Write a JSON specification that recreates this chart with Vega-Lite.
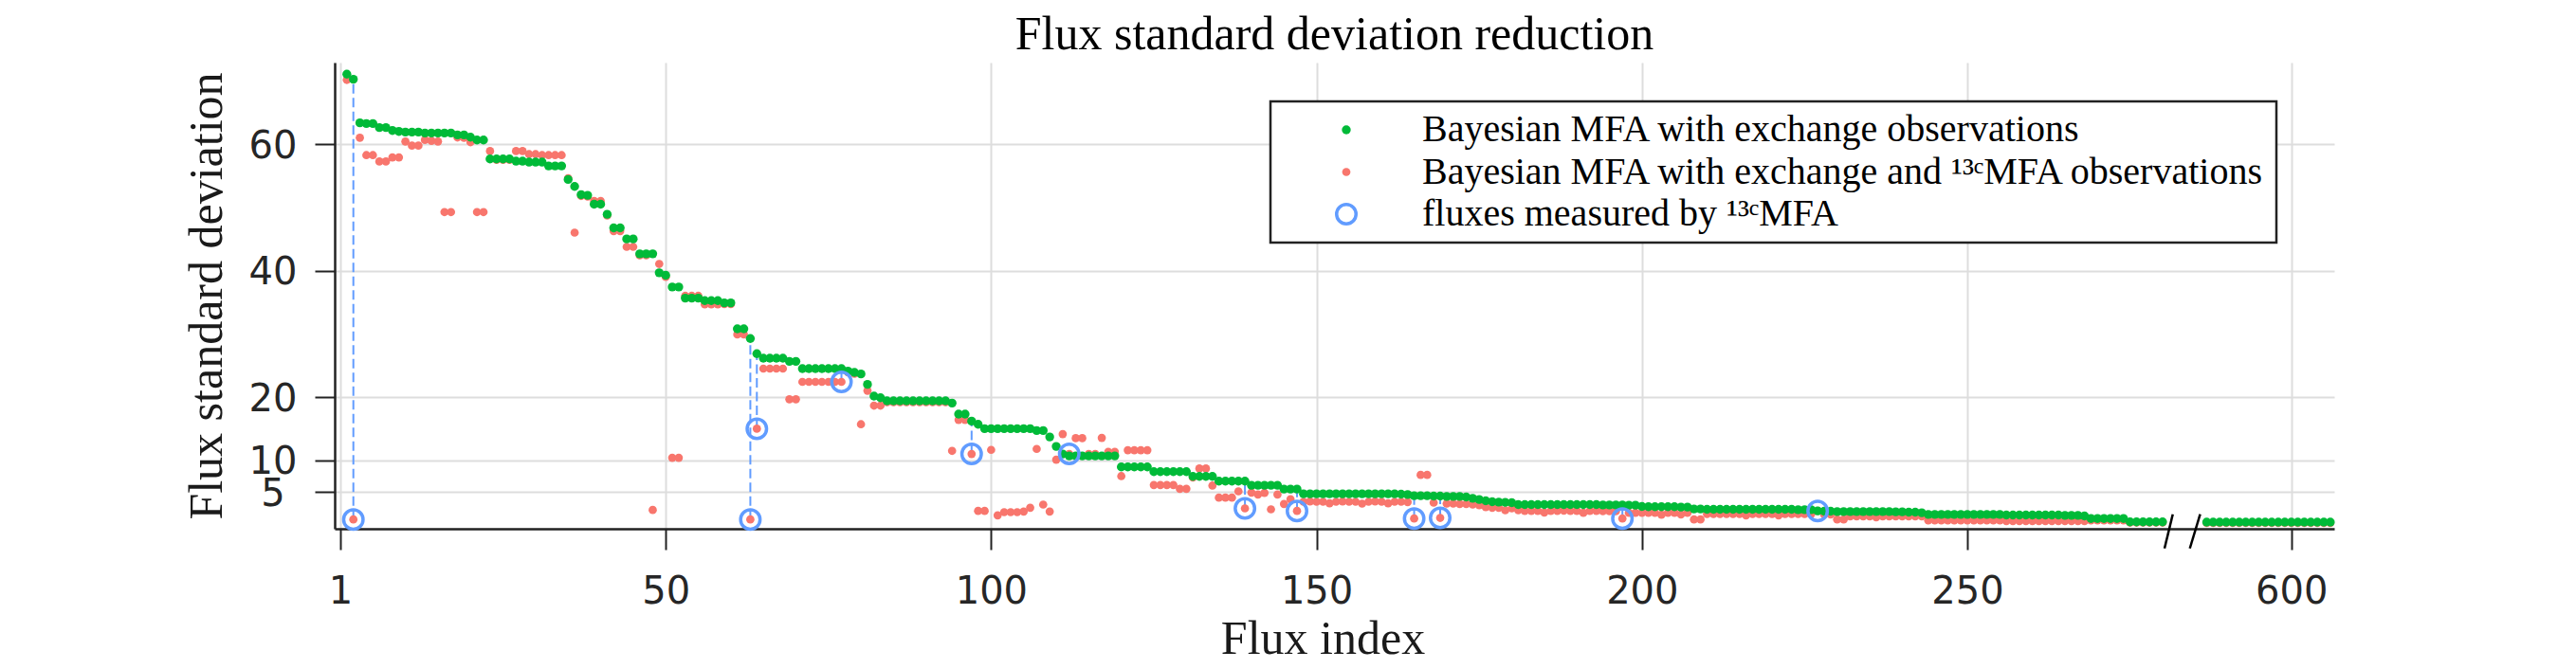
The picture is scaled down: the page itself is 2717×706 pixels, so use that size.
{
  "$schema": "https://vega.github.io/schema/vega-lite/v6.json",
  "width": 2109,
  "height": 492,
  "autosize": {"type": "none"},
  "padding": {"left": 353, "top": 66, "right": 255, "bottom": 148},
  "background": "white",
  "title": {
    "text": "Flux standard deviation reduction",
    "font": "Liberation Serif",
    "fontSize": 50,
    "fontWeight": "normal",
    "color": "black",
    "anchor": "middle"
  },
  "config": {
    "view": {"stroke": null},
    "axis": {
      "domainColor": "#222222",
      "domainWidth": 2.5,
      "tickColor": "#222222",
      "tickWidth": 2,
      "gridColor": "#dddddd",
      "gridWidth": 2,
      "labelFont": "DejaVu Sans",
      "labelFontSize": 40,
      "labelColor": "#262626",
      "titleFont": "Liberation Serif",
      "titleFontSize": 50,
      "titleFontWeight": "normal",
      "titleColor": "#1a1a1a",
      "labelOverlap": false,
      "labelBound": false,
      "labelFlush": false
    },
    "legend": {
      "padding": 10,
      "strokeColor": "#222222",
      "strokeWidth": 2.5,
      "fillColor": "white",
      "labelFont": "Liberation Serif",
      "labelFontSize": 40,
      "labelColor": "black",
      "labelLimit": 0,
      "symbolOffset": 50,
      "labelOffset": 60,
      "rowPadding": 4.5,
      "symbolStrokeWidth": 3.5,
      "symbolType": "circle",
      "symbolOpacity": 1
    }
  },
  "datasets": {
    "flux": [
      {"i":1,"g":71.05,"r":70.15},
      {"i":2,"g":70.25,"r":0.65,"m":1},
      {"i":3,"g":63.35,"r":61.0},
      {"i":4,"g":63.25,"r":58.25},
      {"i":5,"g":63.25,"r":58.25},
      {"i":6,"g":62.6,"r":57.25},
      {"i":7,"g":62.6,"r":57.25},
      {"i":8,"g":62.15,"r":57.9},
      {"i":9,"g":62.0,"r":57.9},
      {"i":10,"g":61.9,"r":60.4},
      {"i":11,"g":61.9,"r":59.75},
      {"i":12,"g":61.9,"r":59.75},
      {"i":13,"g":61.75,"r":60.65},
      {"i":14,"g":61.75,"r":60.5},
      {"i":15,"g":61.75,"r":60.4},
      {"i":16,"g":61.75,"r":49.25},
      {"i":17,"g":61.75,"r":49.25},
      {"i":18,"g":61.45,"r":61.05},
      {"i":19,"g":61.45,"r":61.0},
      {"i":20,"g":61.1,"r":60.3},
      {"i":21,"g":60.65,"r":49.25},
      {"i":22,"g":60.65,"r":49.25},
      {"i":23,"g":57.65,"r":58.9},
      {"i":24,"g":57.65,"r":57.5},
      {"i":25,"g":57.65,"r":57.5},
      {"i":26,"g":57.65,"r":57.5},
      {"i":27,"g":57.3,"r":58.9},
      {"i":28,"g":57.3,"r":58.9},
      {"i":29,"g":57.15,"r":58.4},
      {"i":30,"g":57.15,"r":58.4},
      {"i":31,"g":57.15,"r":58.25},
      {"i":32,"g":56.55,"r":58.25},
      {"i":33,"g":56.55,"r":58.25},
      {"i":34,"g":56.55,"r":58.25},
      {"i":35,"g":54.4,"r":54.6},
      {"i":36,"g":53.3,"r":46.0},
      {"i":37,"g":52.0,"r":51.8},
      {"i":38,"g":51.9,"r":51.7},
      {"i":39,"g":50.5,"r":51.0},
      {"i":40,"g":50.5,"r":51.0},
      {"i":41,"g":48.9,"r":48.7},
      {"i":42,"g":46.75,"r":46.25},
      {"i":43,"g":46.75,"r":46.25},
      {"i":44,"g":45.0,"r":43.75},
      {"i":45,"g":45.0,"r":43.75},
      {"i":46,"g":42.65,"r":42.4},
      {"i":47,"g":42.65,"r":42.4},
      {"i":48,"g":42.65,"r":2.15},
      {"i":49,"g":39.65,"r":41.05},
      {"i":50,"g":39.25,"r":39.0},
      {"i":51,"g":37.4,"r":10.4},
      {"i":52,"g":37.4,"r":10.4},
      {"i":53,"g":35.65,"r":36.0},
      {"i":54,"g":35.65,"r":36.0},
      {"i":55,"g":35.65,"r":36.0},
      {"i":56,"g":35.25,"r":34.65},
      {"i":57,"g":35.25,"r":34.65},
      {"i":58,"g":35.25,"r":34.65},
      {"i":59,"g":34.9,"r":34.7},
      {"i":60,"g":34.9,"r":34.7},
      {"i":61,"g":30.8,"r":29.9},
      {"i":62,"g":30.8,"r":29.9},
      {"i":63,"g":29.25,"r":0.65,"m":1},
      {"i":64,"g":26.85,"r":15.0,"m":1},
      {"i":65,"g":26.15,"r":24.5},
      {"i":66,"g":26.15,"r":24.5},
      {"i":67,"g":26.15,"r":24.5},
      {"i":68,"g":26.15,"r":24.5},
      {"i":69,"g":25.65,"r":19.65},
      {"i":70,"g":25.65,"r":19.65},
      {"i":71,"g":24.5,"r":22.4},
      {"i":72,"g":24.5,"r":22.4},
      {"i":73,"g":24.5,"r":22.4},
      {"i":74,"g":24.5,"r":22.4},
      {"i":75,"g":24.5,"r":22.4},
      {"i":76,"g":24.5,"r":22.4},
      {"i":77,"g":24.5,"r":22.4,"m":1},
      {"i":78,"g":24.1,"r":23.9},
      {"i":79,"g":23.9,"r":23.7},
      {"i":80,"g":23.65,"r":15.7},
      {"i":81,"g":22.0,"r":21.0},
      {"i":82,"g":20.15,"r":18.65},
      {"i":83,"g":19.9,"r":18.65},
      {"i":84,"g":19.4,"r":19.2},
      {"i":85,"g":19.4,"r":19.2},
      {"i":86,"g":19.4,"r":19.2},
      {"i":87,"g":19.4,"r":19.2},
      {"i":88,"g":19.4,"r":19.2},
      {"i":89,"g":19.4,"r":19.2},
      {"i":90,"g":19.4,"r":19.2},
      {"i":91,"g":19.4,"r":19.2},
      {"i":92,"g":19.4,"r":19.2},
      {"i":93,"g":19.4,"r":19.2},
      {"i":94,"g":19.05,"r":11.5},
      {"i":95,"g":17.3,"r":16.4},
      {"i":96,"g":17.3,"r":16.4},
      {"i":97,"g":16.2,"r":11.0,"m":1},
      {"i":98,"g":15.7,"r":2.0},
      {"i":99,"g":15.0,"r":2.0},
      {"i":100,"g":15.0,"r":11.65},
      {"i":101,"g":15.0,"r":1.3},
      {"i":102,"g":15.0,"r":1.8},
      {"i":103,"g":15.0,"r":1.8},
      {"i":104,"g":15.0,"r":1.8},
      {"i":105,"g":15.0,"r":1.9},
      {"i":106,"g":15.0,"r":2.5},
      {"i":107,"g":14.7,"r":11.8},
      {"i":108,"g":14.7,"r":3.0},
      {"i":109,"g":13.7,"r":1.9},
      {"i":110,"g":12.2,"r":10.1},
      {"i":111,"g":11.0,"r":14.15},
      {"i":112,"g":10.7,"r":11.0,"m":1},
      {"i":113,"g":10.7,"r":13.5},
      {"i":114,"g":10.7,"r":13.5},
      {"i":115,"g":10.7,"r":11.0},
      {"i":116,"g":10.7,"r":11.0},
      {"i":117,"g":10.7,"r":13.55},
      {"i":118,"g":10.7,"r":11.35},
      {"i":119,"g":10.7,"r":11.35},
      {"i":120,"g":8.95,"r":7.5},
      {"i":121,"g":8.95,"r":11.6},
      {"i":122,"g":8.95,"r":11.6},
      {"i":123,"g":8.95,"r":11.6},
      {"i":124,"g":8.95,"r":11.6},
      {"i":125,"g":8.2,"r":6.1},
      {"i":126,"g":8.2,"r":6.1},
      {"i":127,"g":8.2,"r":6.1},
      {"i":128,"g":8.2,"r":6.1},
      {"i":129,"g":8.2,"r":5.5},
      {"i":130,"g":8.2,"r":5.5},
      {"i":131,"g":7.45,"r":7.3},
      {"i":132,"g":7.45,"r":8.7},
      {"i":133,"g":7.45,"r":8.7},
      {"i":134,"g":7.45,"r":6.0},
      {"i":135,"g":6.7,"r":4.1},
      {"i":136,"g":6.7,"r":4.1},
      {"i":137,"g":6.7,"r":4.1},
      {"i":138,"g":6.7,"r":5.1},
      {"i":139,"g":6.7,"r":2.4,"m":1},
      {"i":140,"g":6.05,"r":4.9},
      {"i":141,"g":6.05,"r":4.6},
      {"i":142,"g":6.05,"r":4.85},
      {"i":143,"g":6.05,"r":2.25},
      {"i":144,"g":6.05,"r":4.6},
      {"i":145,"g":5.45,"r":3.1},
      {"i":146,"g":5.45,"r":3.85},
      {"i":147,"g":5.45,"r":2.0,"m":1},
      {"i":148,"g":4.7,"r":3.45},
      {"i":149,"g":4.7,"r":3.5},
      {"i":150,"g":4.7,"r":3.45},
      {"i":151,"g":4.7,"r":3.45},
      {"i":152,"g":4.7,"r":3.2},
      {"i":153,"g":4.7,"r":3.45},
      {"i":154,"g":4.7,"r":3.5},
      {"i":155,"g":4.7,"r":3.45},
      {"i":156,"g":4.7,"r":3.45},
      {"i":157,"g":4.7,"r":3.15},
      {"i":158,"g":4.7,"r":3.45},
      {"i":159,"g":4.7,"r":3.5},
      {"i":160,"g":4.7,"r":3.45},
      {"i":161,"g":4.7,"r":3.2},
      {"i":162,"g":4.7,"r":3.45},
      {"i":163,"g":4.65,"r":3.45},
      {"i":164,"g":4.6,"r":3.4},
      {"i":165,"g":4.4,"r":0.8,"m":1},
      {"i":166,"g":4.4,"r":7.7},
      {"i":167,"g":4.4,"r":7.7},
      {"i":168,"g":4.35,"r":3.3},
      {"i":169,"g":4.35,"r":0.9,"m":1},
      {"i":170,"g":4.3,"r":3.15},
      {"i":171,"g":4.3,"r":3.15},
      {"i":172,"g":4.3,"r":3.1},
      {"i":173,"g":4.2,"r":3.1},
      {"i":174,"g":4.0,"r":3.0},
      {"i":175,"g":3.8,"r":2.9},
      {"i":176,"g":3.6,"r":2.6},
      {"i":177,"g":3.45,"r":2.5},
      {"i":178,"g":3.4,"r":2.5},
      {"i":179,"g":3.35,"r":2.1},
      {"i":180,"g":3.3,"r":2.4},
      {"i":181,"g":3.0,"r":2.1},
      {"i":182,"g":3.0,"r":2.0},
      {"i":183,"g":3.0,"r":2.0},
      {"i":184,"g":3.0,"r":2.0},
      {"i":185,"g":3.0,"r":1.75},
      {"i":186,"g":3.0,"r":2.0},
      {"i":187,"g":3.0,"r":2.0},
      {"i":188,"g":3.0,"r":2.05},
      {"i":189,"g":3.0,"r":2.0},
      {"i":190,"g":3.0,"r":2.0},
      {"i":191,"g":3.0,"r":1.7},
      {"i":192,"g":3.0,"r":2.0},
      {"i":193,"g":3.0,"r":2.0},
      {"i":194,"g":2.95,"r":1.95},
      {"i":195,"g":2.95,"r":1.95},
      {"i":196,"g":2.95,"r":1.95},
      {"i":197,"g":2.95,"r":0.8,"m":1},
      {"i":198,"g":2.9,"r":1.7},
      {"i":199,"g":2.9,"r":1.7},
      {"i":200,"g":2.7,"r":1.7},
      {"i":201,"g":2.66,"r":1.7},
      {"i":202,"g":2.66,"r":1.7},
      {"i":203,"g":2.66,"r":1.4},
      {"i":204,"g":2.66,"r":1.7},
      {"i":205,"g":2.66,"r":1.7},
      {"i":206,"g":2.6,"r":1.45},
      {"i":207,"g":2.6,"r":1.7},
      {"i":208,"g":2.3,"r":0.65},
      {"i":209,"g":2.3,"r":0.65},
      {"i":210,"g":2.26,"r":1.5},
      {"i":211,"g":2.26,"r":1.5},
      {"i":212,"g":2.26,"r":1.5},
      {"i":213,"g":2.26,"r":1.5},
      {"i":214,"g":2.26,"r":1.5},
      {"i":215,"g":2.26,"r":1.5},
      {"i":216,"g":2.26,"r":1.3},
      {"i":217,"g":2.26,"r":1.5},
      {"i":218,"g":2.26,"r":1.5},
      {"i":219,"g":2.26,"r":1.5},
      {"i":220,"g":2.26,"r":1.5},
      {"i":221,"g":2.26,"r":1.3},
      {"i":222,"g":2.26,"r":1.5},
      {"i":223,"g":2.26,"r":1.5},
      {"i":224,"g":2.2,"r":1.5},
      {"i":225,"g":2.2,"r":1.5},
      {"i":226,"g":2.2,"r":1.5},
      {"i":227,"g":2.0,"r":2.0,"m":1},
      {"i":228,"g":1.95,"r":1.45},
      {"i":229,"g":1.95,"r":1.45},
      {"i":230,"g":1.9,"r":0.65},
      {"i":231,"g":1.9,"r":0.65},
      {"i":232,"g":1.9,"r":1.15},
      {"i":233,"g":1.9,"r":1.15},
      {"i":234,"g":1.9,"r":1.15},
      {"i":235,"g":1.9,"r":1.15},
      {"i":236,"g":1.9,"r":1.0},
      {"i":237,"g":1.9,"r":1.15},
      {"i":238,"g":1.9,"r":1.15},
      {"i":239,"g":1.85,"r":1.15},
      {"i":240,"g":1.85,"r":1.15},
      {"i":241,"g":1.8,"r":1.15},
      {"i":242,"g":1.8,"r":1.15},
      {"i":243,"g":1.7,"r":1.15},
      {"i":244,"g":1.45,"r":0.5},
      {"i":245,"g":1.45,"r":0.5},
      {"i":246,"g":1.45,"r":0.5},
      {"i":247,"g":1.45,"r":0.5},
      {"i":248,"g":1.45,"r":0.5},
      {"i":249,"g":1.45,"r":0.5},
      {"i":250,"g":1.45,"r":0.5},
      {"i":251,"g":1.45,"r":0.5},
      {"i":252,"g":1.45,"r":0.5},
      {"i":253,"g":1.45,"r":0.5},
      {"i":254,"g":1.45,"r":0.5},
      {"i":255,"g":1.45,"r":0.5},
      {"i":256,"g":1.35,"r":0.4},
      {"i":257,"g":1.35,"r":0.4},
      {"i":258,"g":1.35,"r":0.4},
      {"i":259,"g":1.35,"r":0.4},
      {"i":260,"g":1.35,"r":0.4},
      {"i":261,"g":1.35,"r":0.4},
      {"i":262,"g":1.35,"r":0.4},
      {"i":263,"g":1.35,"r":0.4},
      {"i":264,"g":1.35,"r":0.4},
      {"i":265,"g":1.3,"r":0.4},
      {"i":266,"g":1.3,"r":0.4},
      {"i":267,"g":1.3,"r":0.4},
      {"i":268,"g":1.2,"r":0.4},
      {"i":269,"g":0.8,"r":0.5},
      {"i":270,"g":0.8,"r":0.5},
      {"i":271,"g":0.8,"r":0.5},
      {"i":272,"g":0.8,"r":0.5},
      {"i":273,"g":0.8,"r":0.5},
      {"i":274,"g":0.8,"r":0.5},
      {"i":275,"g":0.27,"r":0.15},
      {"i":276,"g":0.27,"r":0.15},
      {"i":277,"g":0.27,"r":0.15},
      {"i":278,"g":0.27,"r":0.15},
      {"i":279,"g":0.27,"r":0.15},
      {"i":280,"g":0.27,"r":0.15},
      {"i":587,"g":0.22,"r":0.1},
      {"i":588,"g":0.22,"r":0.1},
      {"i":589,"g":0.22,"r":0.1},
      {"i":590,"g":0.22,"r":0.1},
      {"i":591,"g":0.22,"r":0.1},
      {"i":592,"g":0.22,"r":0.1},
      {"i":593,"g":0.22,"r":0.1},
      {"i":594,"g":0.22,"r":0.1},
      {"i":595,"g":0.22,"r":0.1},
      {"i":596,"g":0.22,"r":0.1},
      {"i":597,"g":0.22,"r":0.1},
      {"i":598,"g":0.22,"r":0.1},
      {"i":599,"g":0.22,"r":0.1},
      {"i":600,"g":0.22,"r":0.1},
      {"i":601,"g":0.22,"r":0.1},
      {"i":602,"g":0.22,"r":0.1},
      {"i":603,"g":0.22,"r":0.1},
      {"i":604,"g":0.22,"r":0.1},
      {"i":605,"g":0.22,"r":0.1},
      {"i":606,"g":0.22,"r":0.1}
    ],
    "brk": [
      {"a": 280.3, "b": 317.3, "lo": -3.93, "hi": 1.47},
      {"a": 484.7, "b": 586.0, "lo": -3.93, "hi": 1.47}
    ]
  },
  "data": {"name": "flux"},
  "encoding": {
    "x": {
      "field": "i",
      "type": "quantitative",
      "scale": {"type": "linear", "domain": [-0.87, 281, 586, 606.6], "range": [0, 1934.8, 1967.6, 2109], "nice": false, "zero": false},
      "axis": {
        "values": [0, 50, 100, 150, 200, 250, 600],
        "labelExpr": "datum.value === 0 ? '1' : datum.label",
        "title": "Flux index",
        "grid": true,
        "tickSize": 22,
        "labelPadding": 24,
        "titleBaseline": "alphabetic",
        "titleX": 1042,
        "titleY": 131
      }
    },
    "y": {
      "field": "r",
      "type": "quantitative",
      "scale": {"domain": [-0.82, 72.89], "nice": false, "zero": false},
      "axis": {"values": [5, 10, 20, 40, 60], "title": "Flux standard deviation", "grid": true, "tickSize": 21, "labelAlign": "center", "labelPadding": 44.5, "labelBaseline": "middle", "labelOffset": 2, "titleX": -120, "titleY": 246, "titleBaseline": "alphabetic", "titleAngle": 270}
    }
  },
  "layer": [
    {
      "transform": [{"filter": "datum.m == 1"}],
      "mark": {"type": "rule", "strokeDash": [10, 4.5], "strokeWidth": 2, "color": "#619CFF"},
      "encoding": {
        "y2": {"field": "g"}
      }
    },
    {
      "mark": {"type": "point", "shape": "circle", "strokeWidth": 3.5, "opacity": 1},
      "encoding": {
        "fill": {
          "datum": "Bayesian MFA with exchange and ¹³ᶜMFA observations", "type": "nominal",
          "scale": {"domain": ["Bayesian MFA with exchange observations", "Bayesian MFA with exchange and ¹³ᶜMFA observations", "fluxes measured by ¹³ᶜMFA"], "range": ["#00BA38", "#F8766D", "rgba(0,0,0,0)"]},
          "legend": {"title": null, "orient": "none", "legendX": 987, "legendY": 41}
        },
        "stroke": {
          "datum": "Bayesian MFA with exchange and ¹³ᶜMFA observations", "type": "nominal",
          "scale": {"domain": ["Bayesian MFA with exchange observations", "Bayesian MFA with exchange and ¹³ᶜMFA observations", "fluxes measured by ¹³ᶜMFA"], "range": ["rgba(0,0,0,0)", "rgba(0,0,0,0)", "#619CFF"]},
          "legend": {"title": null, "orient": "none", "legendX": 987, "legendY": 41}
        },
        "size": {
          "datum": "Bayesian MFA with exchange and ¹³ᶜMFA observations", "type": "ordinal",
          "scale": {"type": "ordinal", "domain": ["Bayesian MFA with exchange observations", "Bayesian MFA with exchange and ¹³ᶜMFA observations", "fluxes measured by ¹³ᶜMFA"], "range": [88, 76, 420]},
          "legend": {"title": null, "orient": "none", "legendX": 987, "legendY": 41}
        }
      }
    },
    {
      "mark": {"type": "point", "shape": "circle", "strokeWidth": 3.5, "opacity": 1},
      "encoding": {
        "y": {
          "field": "g", "type": "quantitative",
          "scale": {"domain": [-0.82, 72.89], "nice": false, "zero": false},
          "axis": {"values": [5, 10, 20, 40, 60], "title": "Flux standard deviation", "grid": true, "tickSize": 21, "labelAlign": "center", "labelPadding": 44.5, "labelBaseline": "middle", "labelOffset": 2, "titleX": -120, "titleY": 246, "titleBaseline": "alphabetic", "titleAngle": 270}
        },
        "fill": {
          "datum": "Bayesian MFA with exchange observations", "type": "nominal",
          "scale": {"domain": ["Bayesian MFA with exchange observations", "Bayesian MFA with exchange and ¹³ᶜMFA observations", "fluxes measured by ¹³ᶜMFA"], "range": ["#00BA38", "#F8766D", "rgba(0,0,0,0)"]},
          "legend": {"title": null, "orient": "none", "legendX": 987, "legendY": 41}
        },
        "stroke": {
          "datum": "Bayesian MFA with exchange observations", "type": "nominal",
          "scale": {"domain": ["Bayesian MFA with exchange observations", "Bayesian MFA with exchange and ¹³ᶜMFA observations", "fluxes measured by ¹³ᶜMFA"], "range": ["rgba(0,0,0,0)", "rgba(0,0,0,0)", "#619CFF"]},
          "legend": {"title": null, "orient": "none", "legendX": 987, "legendY": 41}
        },
        "size": {
          "datum": "Bayesian MFA with exchange observations", "type": "ordinal",
          "scale": {"type": "ordinal", "domain": ["Bayesian MFA with exchange observations", "Bayesian MFA with exchange and ¹³ᶜMFA observations", "fluxes measured by ¹³ᶜMFA"], "range": [88, 76, 420]},
          "legend": {"title": null, "orient": "none", "legendX": 987, "legendY": 41}
        }
      }
    },
    {
      "transform": [{"filter": "datum.m == 1"}],
      "mark": {"type": "point", "shape": "circle", "strokeWidth": 3.5, "opacity": 1},
      "encoding": {
        "fill": {
          "datum": "fluxes measured by ¹³ᶜMFA", "type": "nominal",
          "scale": {"domain": ["Bayesian MFA with exchange observations", "Bayesian MFA with exchange and ¹³ᶜMFA observations", "fluxes measured by ¹³ᶜMFA"], "range": ["#00BA38", "#F8766D", "rgba(0,0,0,0)"]},
          "legend": {"title": null, "orient": "none", "legendX": 987, "legendY": 41}
        },
        "stroke": {
          "datum": "fluxes measured by ¹³ᶜMFA", "type": "nominal",
          "scale": {"domain": ["Bayesian MFA with exchange observations", "Bayesian MFA with exchange and ¹³ᶜMFA observations", "fluxes measured by ¹³ᶜMFA"], "range": ["rgba(0,0,0,0)", "rgba(0,0,0,0)", "#619CFF"]},
          "legend": {"title": null, "orient": "none", "legendX": 987, "legendY": 41}
        },
        "size": {
          "datum": "fluxes measured by ¹³ᶜMFA", "type": "ordinal",
          "scale": {"type": "ordinal", "domain": ["Bayesian MFA with exchange observations", "Bayesian MFA with exchange and ¹³ᶜMFA observations", "fluxes measured by ¹³ᶜMFA"], "range": [88, 76, 420]},
          "legend": {"title": null, "orient": "none", "legendX": 987, "legendY": 41}
        }
      }
    },
    {
      "data": {"name": "brk"},
      "mark": {"type": "rule", "color": "black", "strokeWidth": 2.5, "clip": false},
      "encoding": {
        "x": {
          "field": "a",
          "type": "quantitative",
          "axis": {
            "values": [0, 50, 100, 150, 200, 250, 600],
            "labelExpr": "datum.value === 0 ? '1' : datum.label",
            "title": "Flux index",
            "grid": true,
            "tickSize": 22,
            "labelPadding": 24,
            "titleBaseline": "alphabetic",
            "titleX": 1042,
            "titleY": 131
          }
        },
        "x2": {"field": "b"},
        "y": {
          "field": "lo",
          "type": "quantitative",
          "axis": {"values": [5, 10, 20, 40, 60], "title": "Flux standard deviation", "grid": true, "tickSize": 21, "labelAlign": "center", "labelPadding": 44.5, "labelBaseline": "middle", "labelOffset": 2, "titleX": -120, "titleY": 246, "titleBaseline": "alphabetic", "titleAngle": 270}
        },
        "y2": {"field": "hi"}
      }
    }
  ]
}
